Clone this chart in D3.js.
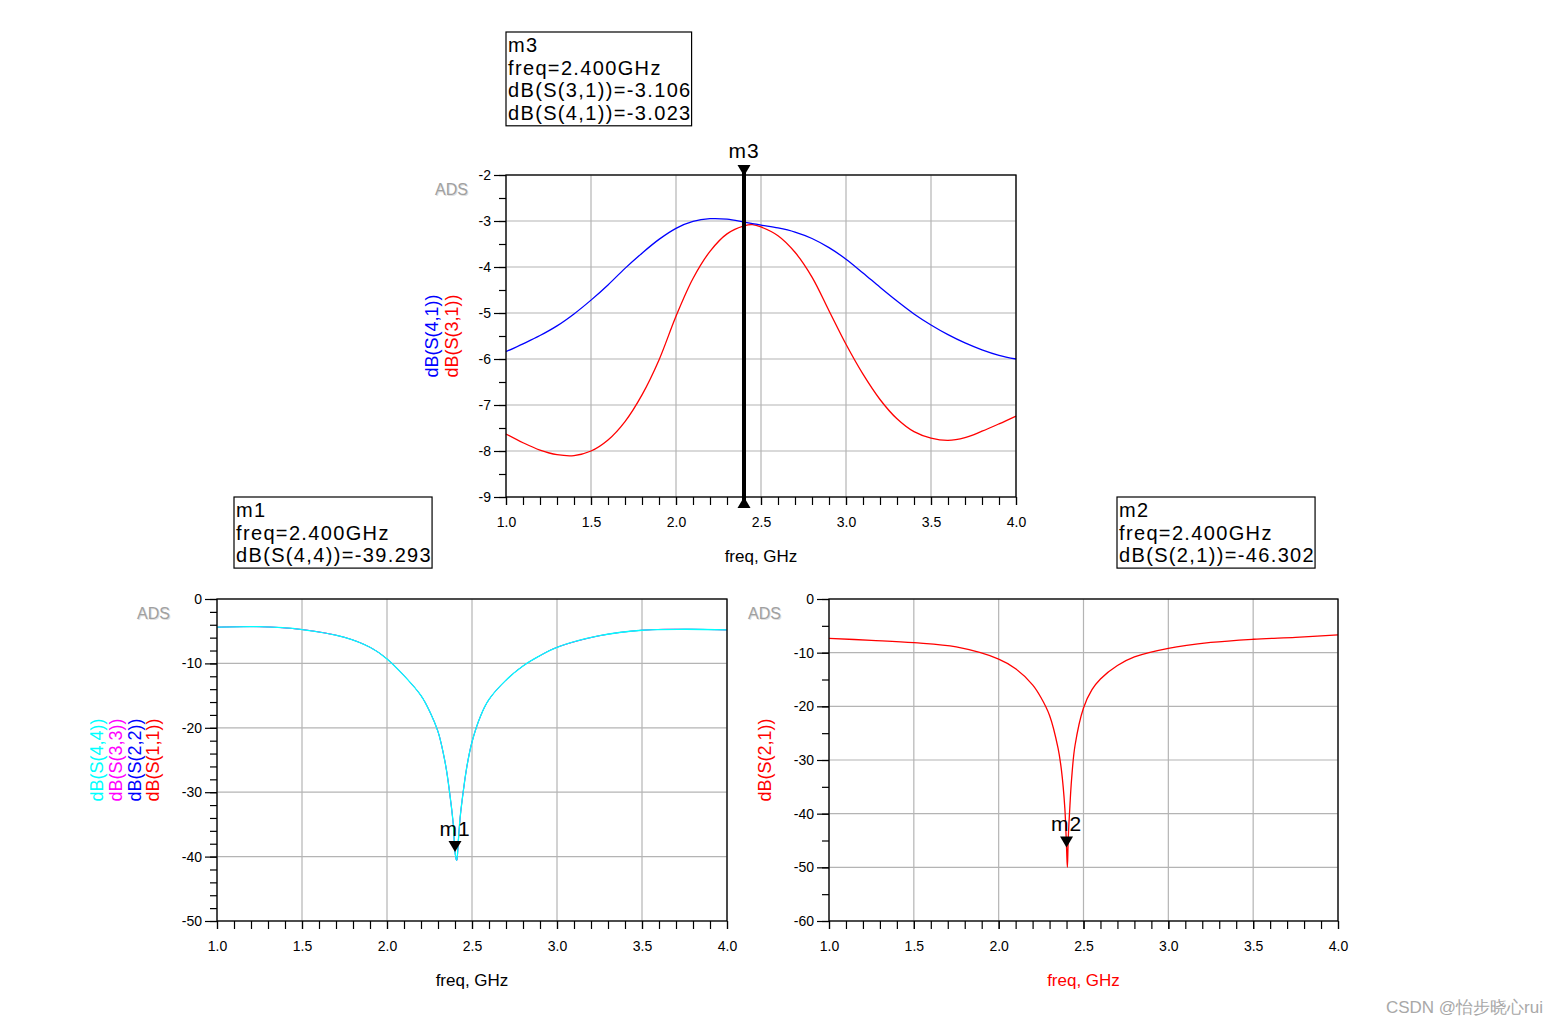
<!DOCTYPE html>
<html lang="en">
<head>
<meta charset="utf-8">
<title>ADS S-parameters</title>
<script src="https://d3js.org/d3.v7.min.js"></script>
<style>
  body { margin: 0; background: #fff; }
  svg text { font-family: Arial, "Liberation Sans", sans-serif; }
</style>
</head>
<body>
<script>
// top plot: coupling S31 / S41 (dB) vs freq (GHz)
const topFreq = [1.0, 1.1, 1.2, 1.3, 1.4, 1.5, 1.6, 1.7, 1.8, 1.9, 2.0, 2.1, 2.2, 2.3, 2.4, 2.45, 2.5,
                 2.6, 2.7, 2.8, 2.9, 3.0, 3.1, 3.2, 3.3, 3.4, 3.5, 3.6, 3.7, 3.8, 3.9, 4.0];
const s31 = [-7.63, -7.82, -7.98, -8.08, -8.1, -8.0, -7.76, -7.36, -6.78, -6.02, -5.07, -4.25, -3.66, -3.28, -3.106, -3.08, -3.13,
             -3.32, -3.68, -4.22, -4.95, -5.68, -6.33, -6.88, -7.3, -7.58, -7.72, -7.77, -7.71, -7.57, -7.41, -7.24];
const s41 = [-5.84, -5.67, -5.49, -5.28, -5.02, -4.72, -4.39, -4.03, -3.7, -3.4, -3.16, -3.01, -2.95, -2.96, -3.023, -3.055, -3.09,
             -3.15, -3.24, -3.38, -3.58, -3.83, -4.13, -4.44, -4.74, -5.02, -5.26, -5.47, -5.65, -5.8, -5.92, -6.0];

// bottom left: return loss (all four ports overlap, S44 drawn last)
const rlFreq = [1.0, 1.25, 1.5, 1.75, 1.9, 2.0, 2.1, 2.2, 2.25, 2.3, 2.33, 2.35, 2.37, 2.39, 2.4, 2.41, 2.42, 2.43,
                2.45, 2.47, 2.5, 2.55, 2.6, 2.7, 2.8, 2.9, 3.0, 3.25, 3.5, 3.75, 4.0];
const s44 = [-4.38, -4.3, -4.74, -5.95, -7.5, -9.3, -11.9, -15.0, -17.4, -20.6, -23.8, -26.6, -30.4, -35.0, -39.293, -40.6, -37.4, -34.0,
             -29.6, -26.0, -22.2, -18.2, -15.6, -12.6, -10.4, -8.8, -7.5, -5.7, -4.85, -4.7, -4.8];
const s33 = s44, s22 = s44, s11 = s44;

// bottom right: isolation S21
const isoFreq = [1.0, 1.25, 1.5, 1.75, 2.0, 2.1, 2.2, 2.25, 2.3, 2.35, 2.37, 2.39, 2.4, 2.405, 2.41, 2.42, 2.43,
                 2.45, 2.5, 2.55, 2.6, 2.7, 2.8, 3.0, 3.25, 3.5, 3.75, 4.0];
const s21 = [-7.33, -7.7, -8.14, -8.94, -11.2, -13.0, -16.0, -18.4, -21.7, -27.8, -31.9, -39.0, -46.302, -50.0, -44.7, -38.5, -33.5,
             -27.3, -20.3, -16.9, -14.9, -12.4, -10.8, -9.2, -8.1, -7.5, -7.14, -6.7];

const markerFreq = 2.4;
const m3Lines = ["m3", "freq=2.400GHz", "dB(S(3,1))=-3.106", "dB(S(4,1))=-3.023"];
const m1Lines = ["m1", "freq=2.400GHz", "dB(S(4,4))=-39.293"];
const m2Lines = ["m2", "freq=2.400GHz", "dB(S(2,1))=-46.302"];
const m1Value = -39.293;
const m2Value = -46.302;

const width = 1559, height = 1027;
const svg = d3.select("body").append("svg")
  .attr("width", width).attr("height", height);

function panel(cfg) {
  const x = d3.scaleLinear().domain([1, 4]).range([cfg.left, cfg.right]);
  const y = d3.scaleLinear().domain(cfg.yDomain).range([cfg.bottom, cfg.top]);
  const g = svg.append("g");

  const xMajor = d3.range(1, 4.001, 0.5);
  const xMinor = d3.range(1, 4.001, 0.1);
  const yMajor = d3.range(cfg.yDomain[0], cfg.yDomain[1] + 1e-6, cfg.yMajor);
  const yMinor = d3.range(cfg.yDomain[0], cfg.yDomain[1] + 1e-6, cfg.yMinor);

  // grid
  g.append("g").selectAll("line").data(xMajor).join("line")
    .attr("x1", d => x(d)).attr("x2", d => x(d))
    .attr("y1", cfg.top).attr("y2", cfg.bottom)
    .attr("stroke", "#b4b4b4").attr("stroke-width", 1.2);
  g.append("g").selectAll("line").data(yMajor).join("line")
    .attr("y1", d => y(d)).attr("y2", d => y(d))
    .attr("x1", cfg.left).attr("x2", cfg.right)
    .attr("stroke", "#b4b4b4").attr("stroke-width", 1.2);

  // axes
  const ax = g.append("g").attr("transform", `translate(0,${cfg.bottom})`)
    .call(d3.axisBottom(x).tickValues(xMinor).tickSize(8).tickFormat(""));
  const ax2 = g.append("g").attr("transform", `translate(0,${cfg.bottom})`)
    .call(d3.axisBottom(x).tickValues(xMajor).tickSize(8).tickPadding(12).tickFormat(d3.format(".1f")));
  const ay = g.append("g").attr("transform", `translate(${cfg.left},0)`)
    .call(d3.axisLeft(y).tickValues(yMinor).tickSize(7).tickFormat(""));
  const ay2 = g.append("g").attr("transform", `translate(${cfg.left},0)`)
    .call(d3.axisLeft(y).tickValues(yMajor).tickSize(12).tickPadding(3).tickFormat(d => String(Math.round(d))));
  [ax, ax2, ay, ay2].forEach(a => {
    a.select(".domain").remove();
    a.selectAll("line").attr("stroke", "#000").attr("stroke-width", 1.2);
    a.selectAll("text").attr("font-size", 14).attr("fill", "#000")
      .attr("font-family", "Arial, 'Liberation Sans', sans-serif");
  });

  // curves: last series in the list is drawn first, so the first one ends on top
  const line = d3.line().x(d => x(d[0])).y(d => y(d[1])).curve(d3.curveCatmullRom.alpha(0.5));
  cfg.series.slice().reverse().forEach((s, i, arr) => {
    const hidden = cfg.overlap && i < arr.length - 1;
    g.append("path").datum(s.freq.map((f, k) => [f, s.values[k]]))
      .attr("d", line).attr("fill", "none")
      .attr("stroke", s.color).attr("stroke-width", hidden ? 0.5 : 1.3);
  });

  // frame
  g.append("rect").attr("x", cfg.left).attr("y", cfg.top)
    .attr("width", cfg.right - cfg.left).attr("height", cfg.bottom - cfg.top)
    .attr("fill", "none").attr("stroke", "#000").attr("stroke-width", 1.3);

  // y labels (rotated, one per series)
  cfg.series.forEach((s, i) => {
    g.append("text")
      .attr("transform", `translate(${cfg.labelX + i * cfg.labelStep},${(cfg.top + cfg.bottom) / 2}) rotate(-90)`)
      .attr("text-anchor", "middle").attr("font-size", 18).attr("fill", s.color)
      .text(s.name);
  });

  // x label
  g.append("text").attr("x", (cfg.left + cfg.right) / 2).attr("y", cfg.bottom + 65)
    .attr("text-anchor", "middle").attr("font-size", 17).attr("fill", cfg.xLabelColor)
    .text("freq, GHz");

  // ADS badge
  g.append("text").attr("x", cfg.adsX + 1).attr("y", cfg.top + 21)
    .attr("text-anchor", "end").attr("font-size", 16)
    .attr("fill", "#e0e0e0").text("ADS");
  g.append("text").attr("x", cfg.adsX).attr("y", cfg.top + 20)
    .attr("text-anchor", "end").attr("font-size", 16)
    .attr("fill", "#a0a0a0").text("ADS");

  return { x, y, g };
}

function markerBox(lines, bx, by) {
  const g = svg.append("g");
  const t = g.append("text").attr("font-size", 20).attr("letter-spacing", 1.35).attr("fill", "#000");
  lines.forEach((l, i) => {
    t.append("tspan").attr("x", bx + 2).attr("y", by + 20 + i * 22.7).text(l);
  });
  const bb = t.node().getBBox();
  g.insert("rect", "text").attr("x", bx).attr("y", by)
    .attr("width", bb.width + 2).attr("height", lines.length * 22.7 + 3)
    .attr("fill", "#fff").attr("stroke", "#000").attr("stroke-width", 1.2);
}

function downTriangle(px, py) {
  svg.append("path").attr("d", `M${px},${py} L${px - 6.5},${py - 11} L${px + 6.5},${py - 11} Z`).attr("fill", "#000");
}

// top plot
const pTop = panel({
  left: 506, right: 1016, top: 175, bottom: 497,
  yDomain: [-9, -2], yMajor: 1, yMinor: 0.5,
  labelX: 438, labelStep: 20, adsX: 468, xLabelColor: "#000", overlap: false,
  series: [
    { name: "dB(S(4,1))", color: "#0000ff", freq: topFreq, values: s41 },
    { name: "dB(S(3,1))", color: "#ff0000", freq: topFreq, values: s31 }
  ]
});

// bottom left
const pRL = panel({
  left: 217, right: 727, top: 599, bottom: 921,
  yDomain: [-50, 0], yMajor: 10, yMinor: 2,
  labelX: 103, labelStep: 18.8, adsX: 170, xLabelColor: "#000", overlap: true,
  series: [
    { name: "dB(S(4,4))", color: "#00ffff", freq: rlFreq, values: s44 },
    { name: "dB(S(3,3))", color: "#ff00ff", freq: rlFreq, values: s33 },
    { name: "dB(S(2,2))", color: "#0000ff", freq: rlFreq, values: s22 },
    { name: "dB(S(1,1))", color: "#ff0000", freq: rlFreq, values: s11 }
  ]
});

// bottom right
const pIso = panel({
  left: 829, right: 1338, top: 599, bottom: 921,
  yDomain: [-60, 0], yMajor: 10, yMinor: 5,
  labelX: 771, labelStep: 0, adsX: 781, xLabelColor: "#ff0000", overlap: false,
  series: [
    { name: "dB(S(2,1))", color: "#ff0000", freq: isoFreq, values: s21 }
  ]
});

// m3 marker line across the top plot
const mx = pTop.x(markerFreq);
svg.append("line").attr("x1", mx).attr("x2", mx).attr("y1", 170).attr("y2", 504)
  .attr("stroke", "#000").attr("stroke-width", 4);
downTriangle(mx, 176);
svg.append("path").attr("d", `M${mx},497 L${mx - 6.5},508 L${mx + 6.5},508 Z`).attr("fill", "#000");
svg.append("text").attr("x", mx).attr("y", 158).attr("text-anchor", "middle")
  .attr("font-size", 21).attr("letter-spacing", 1).text("m3");

// m1 / m2 point markers
const m1x = pRL.x(markerFreq), m1y = pRL.y(m1Value);
downTriangle(m1x, m1y);
svg.append("text").attr("x", m1x).attr("y", m1y - 16).attr("text-anchor", "middle")
  .attr("font-size", 21).attr("letter-spacing", 1).text("m1");
const m2x = pIso.x(markerFreq), m2y = pIso.y(m2Value);
downTriangle(m2x, m2y);
svg.append("text").attr("x", m2x).attr("y", m2y - 16).attr("text-anchor", "middle")
  .attr("font-size", 21).attr("letter-spacing", 1).text("m2");

markerBox(m3Lines, 506, 32);
markerBox(m1Lines, 234, 497);
markerBox(m2Lines, 1117, 497);

// watermark
svg.append("text").attr("x", 1543).attr("y", 1013).attr("text-anchor", "end")
  .attr("font-size", 17).attr("fill", "#a8a8a8")
  .attr("font-family", "Arial, 'Noto Sans CJK SC', sans-serif")
  .text("CSDN @怡步晓心rui");
</script>
</body>
</html>
